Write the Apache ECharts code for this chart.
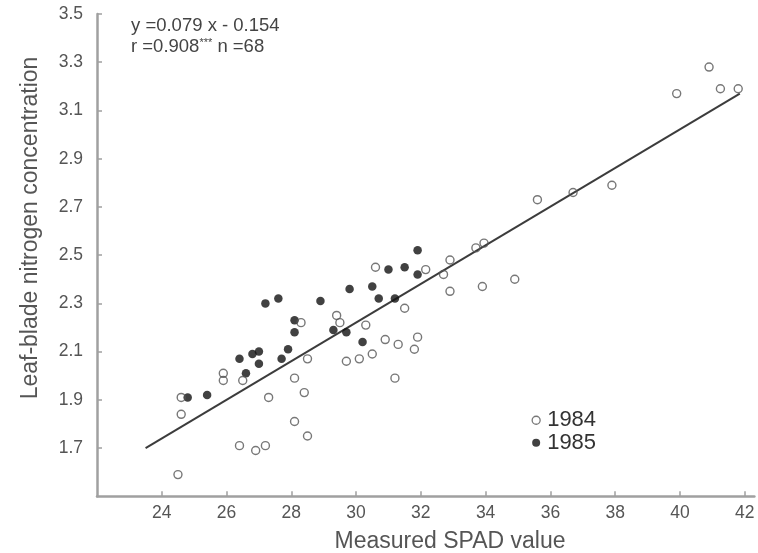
<!DOCTYPE html>
<html>
<head>
<meta charset="utf-8">
<script src="https://cdn.jsdelivr.net/npm/echarts@6/dist/echarts.min.js"></script>
<style>
  html, body { margin: 0; padding: 0; background: #fff; }
  #chart { width: 758px; height: 553px; }
</style>
</head>
<body>
<div id="chart"></div>
<script>
// ---- data ----
const series1984 = [
  [24.6, 1.91], [24.6, 1.84], [24.5, 1.59], [25.9, 2.01], [25.9, 1.98],
  [26.5, 1.98], [27.3, 1.91], [26.4, 1.71], [26.9, 1.69], [27.2, 1.71],
  [28.3, 2.22], [28.1, 1.99], [28.4, 1.93], [28.1, 1.81], [28.5, 1.75],
  [28.5, 2.07], [29.4, 2.25], [29.5, 2.22], [29.7, 2.06], [30.1, 2.07],
  [30.5, 2.09], [30.3, 2.21], [30.6, 2.45], [31.5, 2.28], [30.9, 2.15],
  [31.3, 2.13], [31.8, 2.11], [31.9, 2.16], [31.2, 1.99], [32.15, 2.44],
  [32.7, 2.42], [32.9, 2.48], [33.7, 2.53], [33.95, 2.55], [32.9, 2.35],
  [33.9, 2.37], [34.9, 2.40], [35.6, 2.73], [36.7, 2.76], [37.9, 2.79],
  [39.9, 3.17], [40.9, 3.28], [41.25, 3.19], [41.8, 3.19]
];
const series1985 = [
  [24.8, 1.91], [25.4, 1.92], [26.4, 2.07], [26.6, 2.01], [26.8, 2.09],
  [27.0, 2.10], [27.0, 2.05], [27.2, 2.30], [27.6, 2.32], [27.7, 2.07],
  [27.9, 2.11], [28.1, 2.18], [28.1, 2.23], [28.9, 2.31], [29.3, 2.19],
  [29.7, 2.18], [29.8, 2.36], [30.2, 2.14], [30.5, 2.37], [30.7, 2.32],
  [31.0, 2.44], [31.5, 2.45], [31.9, 2.52], [31.9, 2.42], [31.2, 2.32]
];
const regressionLine = [[23.5, 1.70], [41.85, 3.17]];
const xTickLabels = [24, 26, 28, 30, 32, 34, 36, 38, 40, 42];
const yTickLabels = [1.7, 1.9, 2.1, 2.3, 2.5, 2.7, 2.9, 3.1, 3.3, 3.5];
const legendNames = ['1984', '1985'];
const xTitle = 'Measured SPAD value';
const yTitle = 'Leaf-blade nitrogen concentration';
const eqLine1 = 'y =0.079 x - 0.154';
const eqLine2a = 'r =0.908';
const eqLine2sup = '***';
const eqLine2b = ' n =68';

// ---- chart ----
const FONT = '"Liberation Sans", Arial, Helvetica, sans-serif';
const chart = echarts.init(document.getElementById('chart'), null, { renderer: 'canvas' });

const option = {
  backgroundColor: '#ffffff',
  animation: false,
  textStyle: { fontFamily: FONT },
  grid: { left: 97, right: 3.6, top: 14, bottom: 56.7, containLabel: false },
  xAxis: {
    type: 'value',
    min: 22, max: 42.3,
    axisLine: { show: true, lineStyle: { color: '#a0a0a0', width: 2.5 } },
    axisTick: { show: true, inside: true, length: 5, customValues: xTickLabels,
                lineStyle: { color: '#a0a0a0', width: 1.5 } },
    axisLabel: { show: true, customValues: xTickLabels, margin: 8,
                 color: '#555', fontSize: 17.5, fontFamily: FONT },
    splitLine: { show: false }
  },
  yAxis: {
    type: 'value',
    min: 1.5, max: 3.5,
    axisLine: { show: true, lineStyle: { color: '#a0a0a0', width: 2.5 } },
    axisTick: { show: true, inside: true, length: 5, customValues: yTickLabels,
                lineStyle: { color: '#a0a0a0', width: 1.5 } },
    axisLabel: { show: true, customValues: yTickLabels, margin: 14,
                 color: '#555', fontSize: 17.5, fontFamily: FONT,
                 formatter: v => v.toFixed(1) },
    splitLine: { show: false }
  },
  legend: {
    orient: 'vertical',
    left: 526.5, top: 404,
    itemWidth: 8, itemHeight: 8, itemGap: 0,
    icon: 'circle',
    textStyle: { fontSize: 22, color: '#333', fontFamily: FONT, lineHeight: 22.5, padding: [0, 0, 0, 2] },
    data: [
      { name: legendNames[0], icon: 'circle',
        itemStyle: { color: 'rgba(255,255,255,0)', borderColor: '#555', borderWidth: 1.3 } },
      { name: legendNames[1], icon: 'circle',
        itemStyle: { color: '#111', borderWidth: 0 } }
    ]
  },
  series: [
    {
      name: 'fit', type: 'line', data: regressionLine,
      symbol: 'none', silent: true,
      lineStyle: { color: '#3c3c3c', width: 2 }, z: 1
    },
    {
      name: legendNames[0], type: 'scatter', data: series1984,
      symbol: 'circle', symbolSize: 8,
      itemStyle: { color: 'rgba(255,255,255,0)', borderColor: '#555', borderWidth: 1.4 }, z: 3
    },
    {
      name: legendNames[1], type: 'scatter', data: series1985,
      symbol: 'circle', symbolSize: 8.5,
      itemStyle: { color: '#111' }, z: 2
    }
  ],
  graphic: [
    {
      type: 'text', left: 131, top: 16,
      style: { text: eqLine1, fontSize: 18.5, fill: '#444', fontFamily: FONT }
    },
    {
      type: 'text', left: 131, top: 37,
      style: {
        text: '{a|' + eqLine2a + '}{s|' + eqLine2sup + '}{a|' + eqLine2b + '}',
        fill: '#444', fontFamily: FONT,
        rich: {
          a: { fontSize: 18.5, fill: '#444', fontFamily: FONT, verticalAlign: 'bottom' },
          s: { fontSize: 11, fill: '#444', fontFamily: FONT, verticalAlign: 'top', padding: [0, 0, 8, 0] }
        }
      }
    },
    {
      type: 'text', x: 450, y: 541.5,
      style: { text: xTitle, fontSize: 23, fill: '#555', fontFamily: FONT,
               align: 'center', verticalAlign: 'middle' }
    },
    {
      type: 'text', x: 30.5, y: 228, rotation: Math.PI / 2,
      style: { text: yTitle, fontSize: 23, fill: '#555', fontFamily: FONT,
               align: 'center', verticalAlign: 'middle' }
    }
  ]
};
chart.setOption(option);
</script>
</body>
</html>
